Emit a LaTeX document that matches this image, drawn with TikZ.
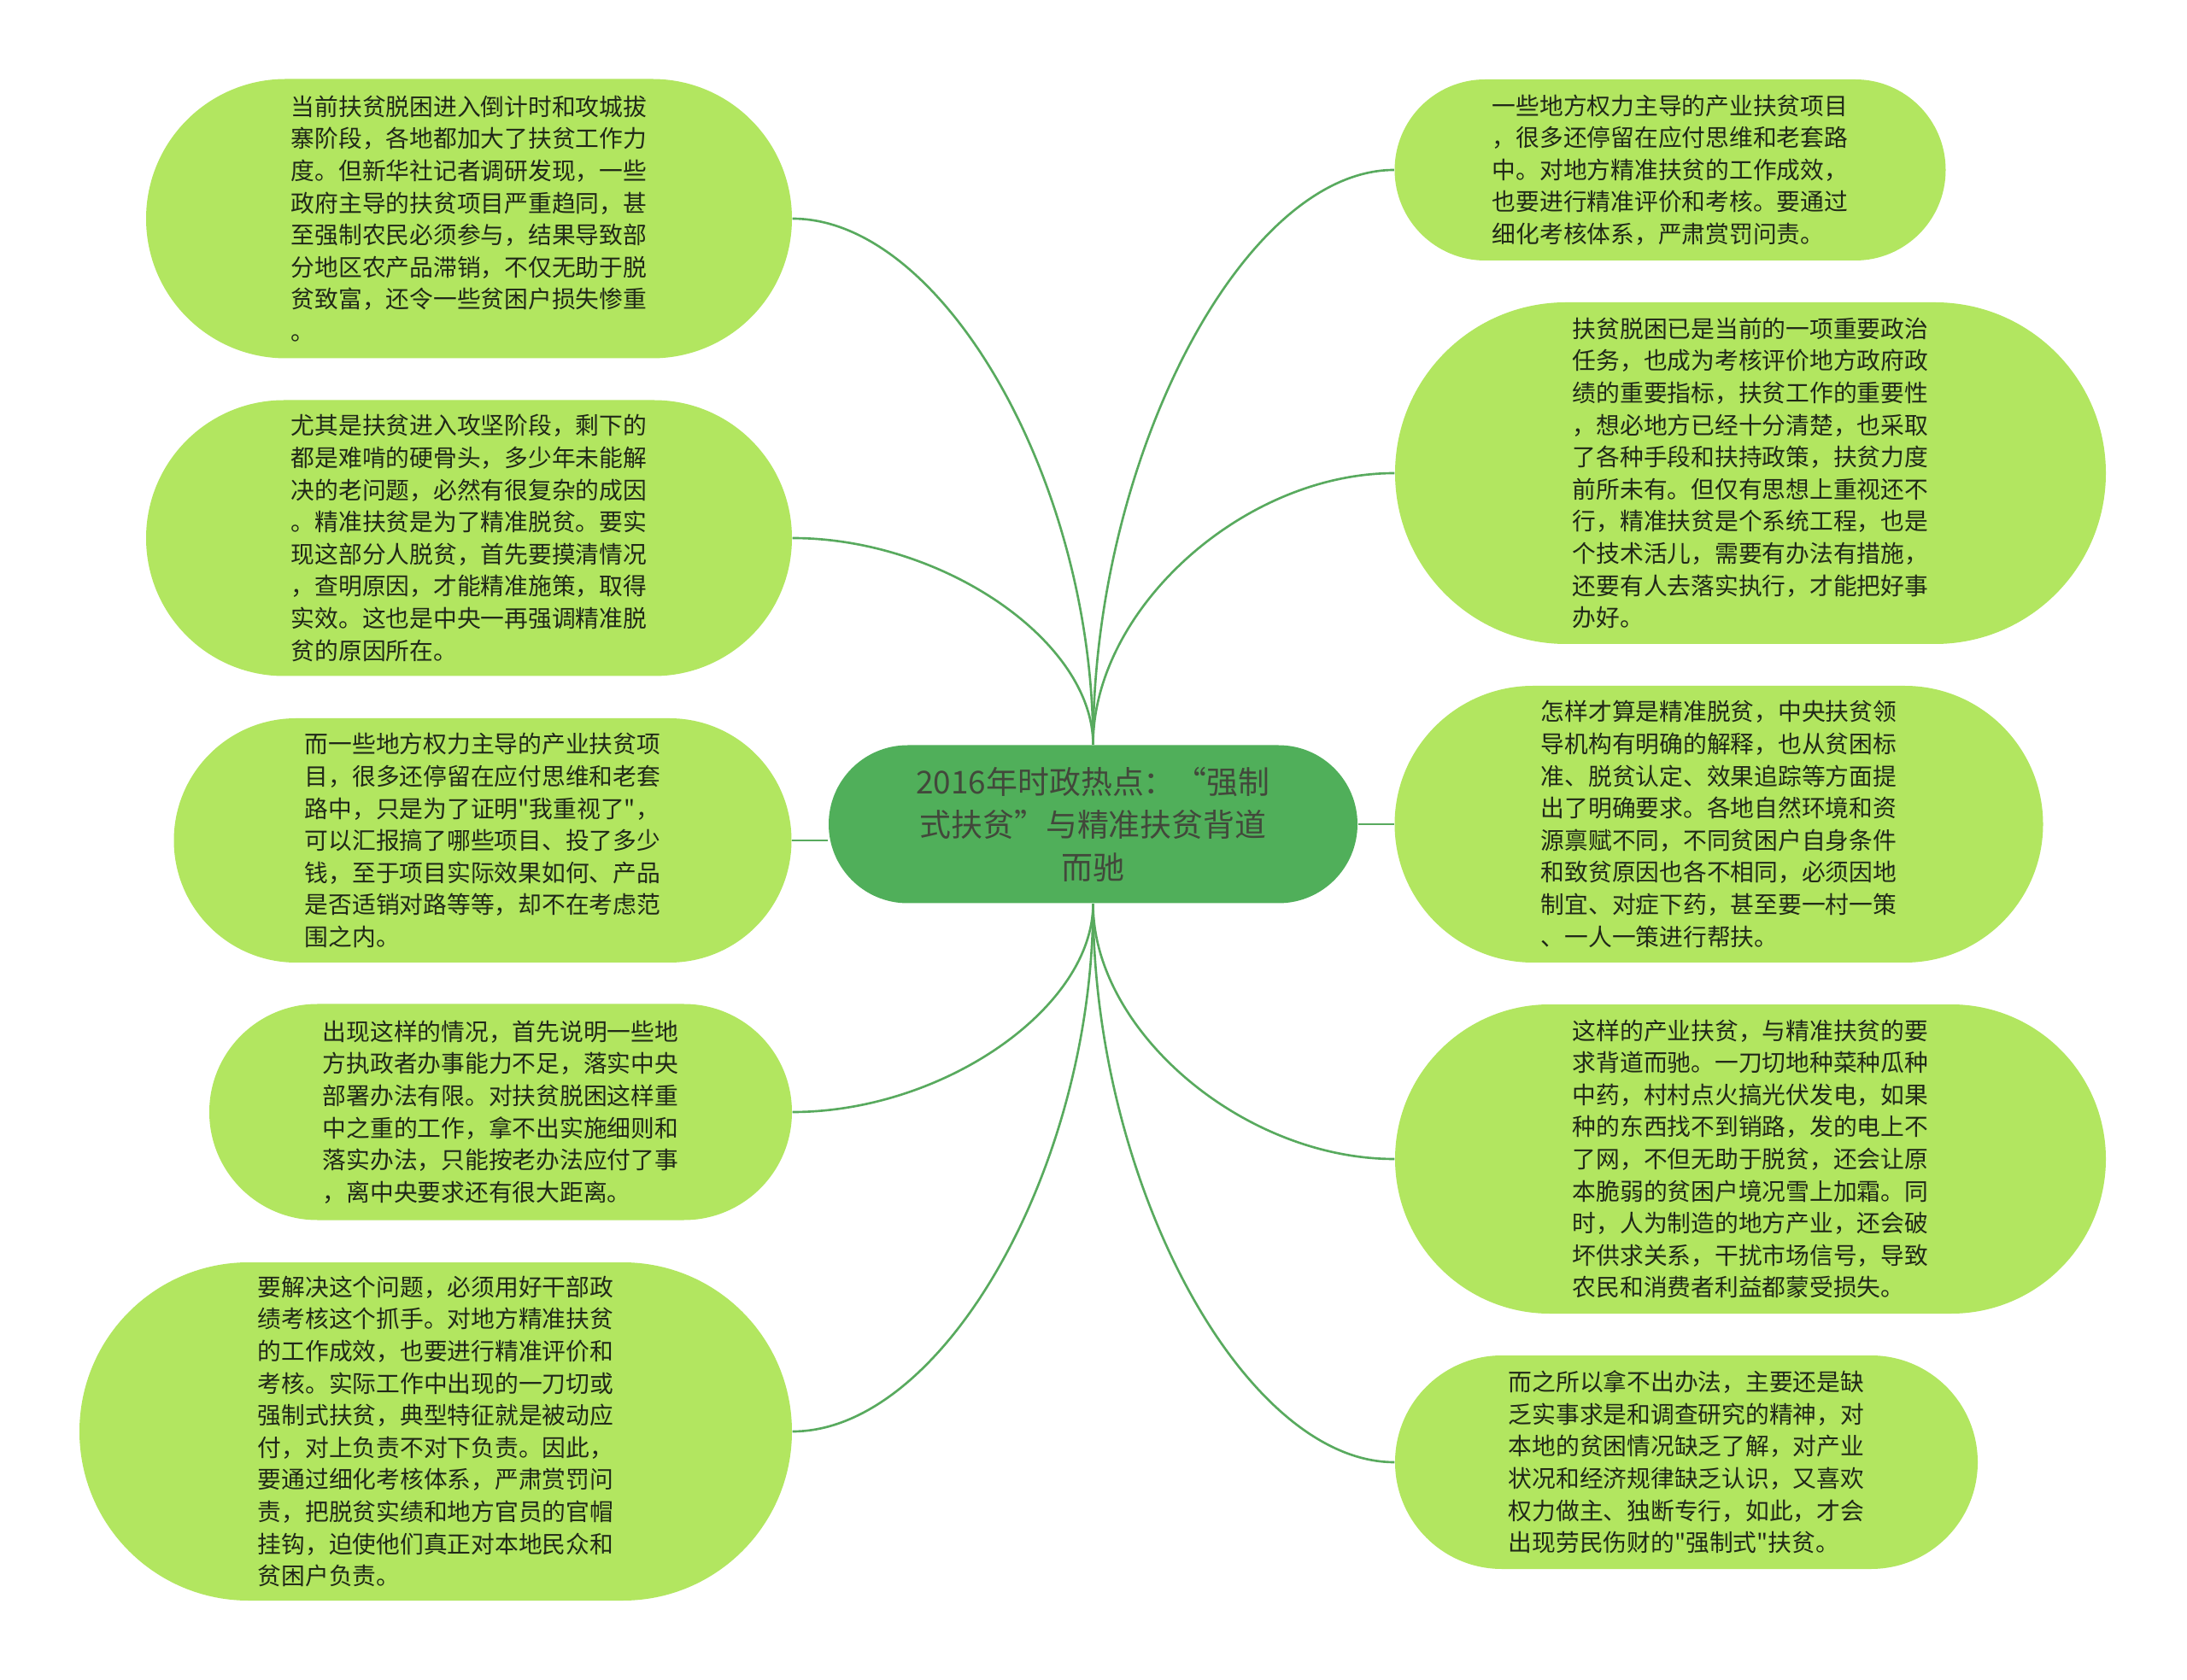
\documentclass[tikz,border=0pt]{standalone}
\usepackage{fontspec}
\newfontfamily\hei{Noto Sans CJK SC}
\usetikzlibrary{shapes.misc,calc}

\definecolor{hoja}{RGB}{178,230,96}
\definecolor{raiz}{RGB}{80,175,90}
\definecolor{lineaverde}{RGB}{88,170,94}
\definecolor{tinta}{RGB}{32,40,24}

\begin{document}
\begin{tikzpicture}[
        tema/.style={rounded rectangle, fill=raiz, align=center, inner xsep=0pt, text=tinta!85,
            font={\hei\fontsize{10.5pt}{14.2pt}\selectfont}},
        idea/.style={rounded rectangle, fill=hoja, align=left, inner xsep=0pt, text=tinta,
            font={\hei\fontsize{7.9pt}{10.7pt}\selectfont}},
        rama/.style={draw=lineaverde, line width=0.75pt,
            to path={.. controls ($(\tikztostart)!0.5!(\tikztostart |- \tikztotarget)$)
                and ($(\tikztotarget)!0.5!(\tikztostart |- \tikztotarget)$) .. (\tikztotarget)}},
        recta/.style={draw=lineaverde, line width=0.75pt}
    ]
        \fill[white] (0,0) rectangle (25.6,-19.67);
        \useasboundingbox (0,0) rectangle (25.6,-19.67);

        \node[tema, minimum width=6.19cm, minimum height=1.85cm] (central-topic) at (12.795,-9.65)
            {2016年时政热点：“强制\\式扶贫”与精准扶贫背道\\而驰};

        % left side
        \node[idea, minimum width=7.56cm, minimum height=3.27cm] (countdown-stage) at (5.49,-2.56)
            {当前扶贫脱困进入倒计时和攻城拔\\寨阶段，各地都加大了扶贫工作力\\度。但新华社记者调研发现，一些\\政府主导的扶贫项目严重趋同，甚\\至强制农民必须参与，结果导致部\\分地区农产品滞销，不仅无助于脱\\贫致富，还令一些贫困户损失惨重\\。};
        \node[idea, minimum width=7.56cm, minimum height=3.23cm] (hard-bones) at (5.49,-6.30)
            {尤其是扶贫进入攻坚阶段，剩下的\\都是难啃的硬骨头，多少年未能解\\决的老问题，必然有很复杂的成因\\。精准扶贫是为了精准脱贫。要实\\现这部分人脱贫，首先要摸清情况\\，查明原因，才能精准施策，取得\\实效。这也是中央一再强调精准脱\\贫的原因所在。};
        \node[idea, minimum width=7.23cm, minimum height=2.86cm] (industry-projects) at (5.65,-9.84)
            {而一些地方权力主导的产业扶贫项\\目，很多还停留在应付思维和老套\\路中，只是为了证明"我重视了"，\\可以汇报搞了哪些项目、投了多少\\钱，至于项目实际效果如何、产品\\是否适销对路等等，却不在考虑范\\围之内。};
        \node[idea, minimum width=6.82cm, minimum height=2.53cm] (weak-capacity) at (5.86,-13.02)
            {出现这样的情况，首先说明一些地\\方执政者办事能力不足，落实中央\\部署办法有限。对扶贫脱困这样重\\中之重的工作，拿不出实施细则和\\落实办法，只能按老办法应付了事\\，离中央要求还有很大距离。};
        \node[idea, minimum width=8.34cm, minimum height=3.96cm] (performance-review) at (5.10,-16.76)
            {要解决这个问题，必须用好干部政\\绩考核这个抓手。对地方精准扶贫\\的工作成效，也要进行精准评价和\\考核。实际工作中出现的一刀切或\\强制式扶贫，典型特征就是被动应\\付，对上负责不对下负责。因此，\\要通过细化考核体系，严肃赏罚问\\责，把脱贫实绩和地方官员的官帽\\挂钩，迫使他们真正对本地民众和\\贫困户负责。};

        % right side
        \node[idea, minimum width=6.45cm, minimum height=2.12cm] (local-projects) at (19.55,-1.99)
            {一些地方权力主导的产业扶贫项目\\，很多还停留在应付思维和老套路\\中。对地方精准扶贫的工作成效，\\也要进行精准评价和考核。要通过\\细化考核体系，严肃赏罚问责。};
        \node[idea, minimum width=8.32cm, minimum height=4.00cm] (political-task) at (20.49,-5.54)
            {扶贫脱困已是当前的一项重要政治\\任务，也成为考核评价地方政府政\\绩的重要指标，扶贫工作的重要性\\，想必地方已经十分清楚，也采取\\了各种手段和扶持政策，扶贫力度\\前所未有。但仅有思想上重视还不\\行，精准扶贫是个系统工程，也是\\个技术活儿，需要有办法有措施，\\还要有人去落实执行，才能把好事\\办好。};
        \node[idea, minimum width=7.59cm, minimum height=3.24cm] (precise-standard) at (20.12,-9.65)
            {怎样才算是精准脱贫，中央扶贫领\\导机构有明确的解释，也从贫困标\\准、脱贫认定、效果追踪等方面提\\出了明确要求。各地自然环境和资\\源禀赋不同，不同贫困户自身条件\\和致贫原因也各不相同，必须因地\\制宜、对症下药，甚至要一村一策\\、一人一策进行帮扶。};
        \node[idea, minimum width=8.32cm, minimum height=3.62cm] (against-precision) at (20.49,-13.57)
            {这样的产业扶贫，与精准扶贫的要\\求背道而驰。一刀切地种菜种瓜种\\中药，村村点火搞光伏发电，如果\\种的东西找不到销路，发的电上不\\了网，不但无助于脱贫，还会让原\\本脆弱的贫困户境况雪上加霜。同\\时，人为制造的地方产业，还会破\\坏供求关系，干扰市场信号，导致\\农民和消费者利益都蒙受损失。};
        \node[idea, minimum width=6.82cm, minimum height=2.50cm] (lack-of-method) at (19.74,-17.12)
            {而之所以拿不出办法，主要还是缺\\乏实事求是和调查研究的精神，对\\本地的贫困情况缺乏了解，对产业\\状况和经济规律缺乏认识，又喜欢\\权力做主、独断专行，如此，才会\\出现劳民伤财的"强制式"扶贫。};

        % branches
        \draw[rama] (central-topic.north) to (countdown-stage.east);
        \draw[rama] (central-topic.north) to (hard-bones.east);
        \draw[recta] (industry-projects.east) -- (industry-projects.east -| central-topic.west);
        \draw[rama] (central-topic.south) to (weak-capacity.east);
        \draw[rama] (central-topic.south) to (performance-review.east);
        \draw[rama] (central-topic.north) to (local-projects.west);
        \draw[rama] (central-topic.north) to (political-task.west);
        \draw[recta] (central-topic.east) -- (precise-standard.west);
        \draw[rama] (central-topic.south) to (against-precision.west);
        \draw[rama] (central-topic.south) to (lack-of-method.west);
    \end{tikzpicture}
\end{document}
